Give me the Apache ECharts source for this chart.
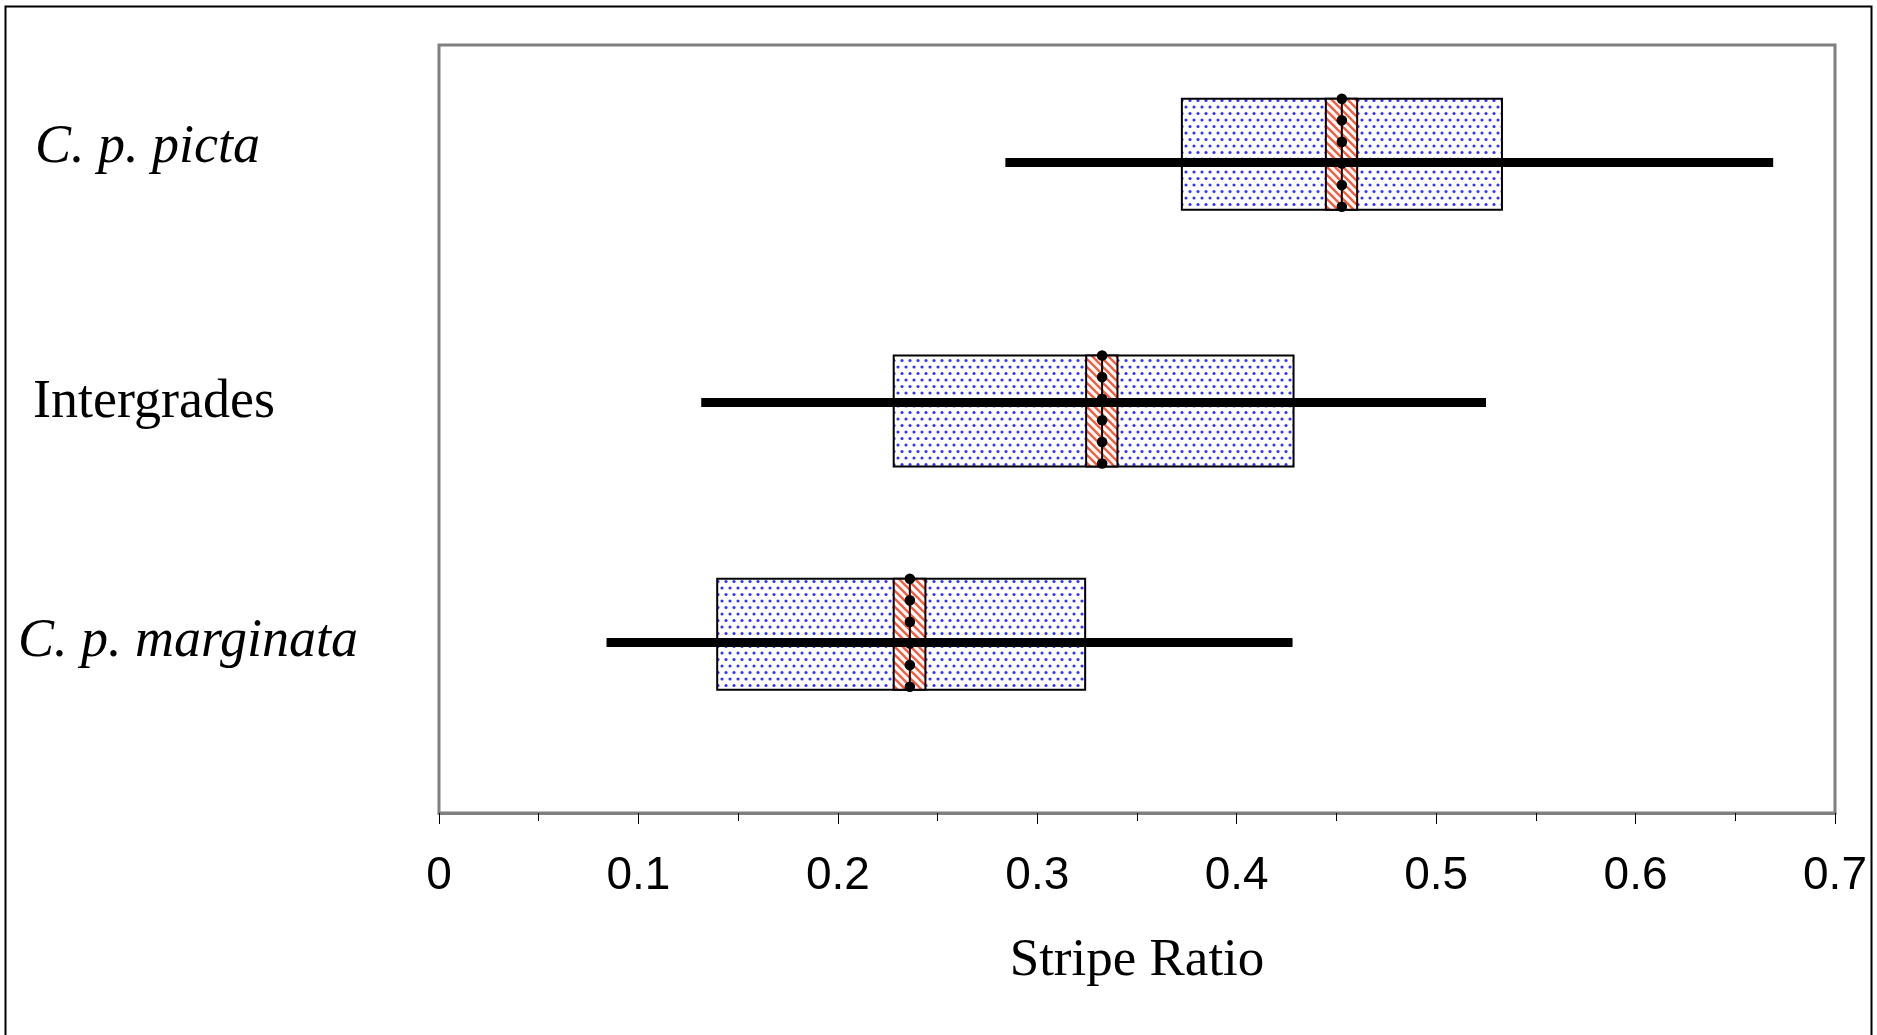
<!DOCTYPE html>
<html>
<head>
<meta charset="utf-8">
<script src="https://cdn.jsdelivr.net/npm/echarts@6/dist/echarts.min.js"></script>
<style>
  html, body { margin: 0; padding: 0; background: #ffffff; }
  #chart { width: 1877px; height: 1035px; }
</style>
</head>
<body>
<div id="chart"></div>
<script>
// Stripe ratio by group: overall range (bar), interquartile box,
// confidence band around the median, and the median itself.
const categories = ['C. p. picta', 'Intergrades', 'C. p. marginata'];
const italicNames = [true, false, true];
const rowLevel = [2.71, 1.71, 0.71];      // level of the range bar
const boxLevel = [2.745, 1.675, 0.745];   // level of the box centre
const rangeMin = [0.284, 0.1315, 0.084];
const rangeMax = [0.669, 0.525, 0.428];
const boxLow = [0.3725, 0.228, 0.1395];
const boxHigh = [0.533, 0.4285, 0.324];
const ciLow = [0.4447, 0.3245, 0.228];
const ciHigh = [0.4604, 0.3402, 0.2439];
const median = [0.4527, 0.3325, 0.2361];
const xTicks = [0, 0.1, 0.2, 0.3, 0.4, 0.5, 0.6, 0.7];

const BOX_H = 111;      // box height, px
const DOT_R = 5.3;      // median dot radius, px
const DOT_COUNT = 6;

// Blue dotted fill for the boxes
function makeDotPattern() {
  const c = document.createElement('canvas');
  c.width = 8; c.height = 13;
  const g = c.getContext('2d');
  g.fillStyle = '#ffffff';
  g.fillRect(0, 0, 8, 13);
  g.fillStyle = '#3434ff';
  [[2, 3], [6, 9.5]].forEach(function (p) {
    g.beginPath();
    g.arc(p[0], p[1], 1.55, 0, Math.PI * 2);
    g.fill();
  });
  return c;
}

// Red diagonal hatching for the confidence band
function makeHatchPattern() {
  const s = 8;
  const c = document.createElement('canvas');
  c.width = s; c.height = s;
  const g = c.getContext('2d');
  g.fillStyle = '#ffffff';
  g.fillRect(0, 0, s, s);
  g.strokeStyle = '#ff5a3c';
  g.lineWidth = 2.4;
  [-s, 0, s].forEach(function (o) {
    g.beginPath();
    g.moveTo(o - 1, -1);
    g.lineTo(o + s + 1, s + 1);
    g.stroke();
  });
  return c;
}

const dotFill = { image: makeDotPattern(), repeat: 'repeat' };
const hatchFill = { image: makeHatchPattern(), repeat: 'repeat' };

const seriesData = categories.map(function (name, i) {
  return [boxLow[i], boxHigh[i], ciLow[i], ciHigh[i], median[i],
          rangeMin[i], rangeMax[i], rowLevel[i], boxLevel[i]];
});

function renderRow(params, api) {
  const px = function (dim) { return api.coord([api.value(dim), 0])[0]; };
  const yBar = api.coord([0, api.value(7)])[1];
  const yMid = api.coord([0, api.value(8)])[1];
  const top = yMid - BOX_H / 2;
  const children = [];

  children.push({
    type: 'rect',
    shape: { x: px(0), y: top, width: px(1) - px(0), height: BOX_H },
    style: { fill: dotFill, stroke: '#000000', lineWidth: 2 }
  });
  children.push({
    type: 'rect',
    shape: { x: px(2), y: top, width: px(3) - px(2), height: BOX_H },
    style: { fill: hatchFill, stroke: '#000000', lineWidth: 2 }
  });
  const xm = px(4);
  children.push({
    type: 'line',
    shape: { x1: xm, y1: top, x2: xm, y2: top + BOX_H },
    style: { stroke: '#000000', lineWidth: 2 }
  });
  const step = (BOX_H - 3) / (DOT_COUNT - 1);
  for (let k = 0; k < DOT_COUNT; k++) {
    children.push({
      type: 'circle',
      shape: { cx: xm, cy: top + k * step, r: DOT_R },
      style: { fill: '#000000' }
    });
  }
  children.push({
    type: 'line',
    shape: { x1: px(5), y1: yBar, x2: px(6), y2: yBar },
    style: { stroke: '#000000', lineWidth: 9, lineCap: 'butt' }
  });
  return { type: 'group', children: children };
}

const chart = echarts.init(document.getElementById('chart'), null, { renderer: 'canvas' });

const serif = '"Liberation Serif", "Times New Roman", serif';
const sans = '"Liberation Sans", Arial, sans-serif';

chart.setOption({
  backgroundColor: '#ffffff',
  animation: false,
  graphic: [{
    type: 'rect',
    shape: { x: 5.5, y: 6.5, width: 1866, height: 1100 },
    style: { fill: null, stroke: '#000000', lineWidth: 2 },
    silent: true,
    z: 100
  }],
  grid: {
    left: 439, right: 42, top: 45, bottom: 222,
    show: true,
    borderColor: '#808080',
    borderWidth: 3,
    backgroundColor: 'transparent'
  },
  xAxis: {
    type: 'value',
    min: xTicks[0],
    max: xTicks[xTicks.length - 1],
    interval: 0.1,
    name: 'Stripe Ratio',
    nameLocation: 'middle',
    nameGap: 122,
    nameTextStyle: { fontFamily: serif, fontSize: 53, color: '#000000' },
    axisLine: { show: true, lineStyle: { color: '#808080', width: 3 } },
    axisTick: { show: true, length: 11, inside: false, lineStyle: { color: '#000000', width: 1 } },
    minorTick: { show: true, splitNumber: 2, length: 8, lineStyle: { color: '#000000', width: 1 } },
    splitLine: { show: false },
    axisLabel: {
      show: true,
      margin: 40,
      fontFamily: sans,
      fontSize: 46,
      color: '#000000',
      showMinLabel: true,
      showMaxLabel: true,
      formatter: function (v) { return String(Math.round(v * 10) / 10); }
    }
  },
  yAxis: {
    type: 'value',
    min: 0,
    max: 3.2,
    axisLine: { show: false },
    axisTick: { show: false },
    splitLine: { show: false },
    axisLabel: {
      show: true,
      customValues: rowLevel,
      align: 'left',
      margin: 421,
      formatter: function (v) {
        const i = rowLevel.indexOf(v);
        if (i < 0) return '';
        const key = (italicNames[i] ? 'i' : 'n') + i;
        return '{' + key + '|' + categories[i] + '}';
      },
      rich: {
        i0: { fontFamily: serif, fontStyle: 'italic', fontSize: 54, color: '#000', padding: [0, 0, 30, 17] },
        n1: { fontFamily: serif, fontSize: 54, color: '#000', padding: [0, 0, 0, 15] },
        i2: { fontFamily: serif, fontStyle: 'italic', fontSize: 54, color: '#000', padding: [0, 0, 1, 0] }
      }
    }
  },
  series: [{
    type: 'custom',
    renderItem: renderRow,
    data: seriesData,
    encode: { x: [0, 1, 2, 3, 4, 5, 6], y: [7, 8] },
    clip: false,
    silent: true,
    z: 5
  }]
});
</script>
</body>
</html>
